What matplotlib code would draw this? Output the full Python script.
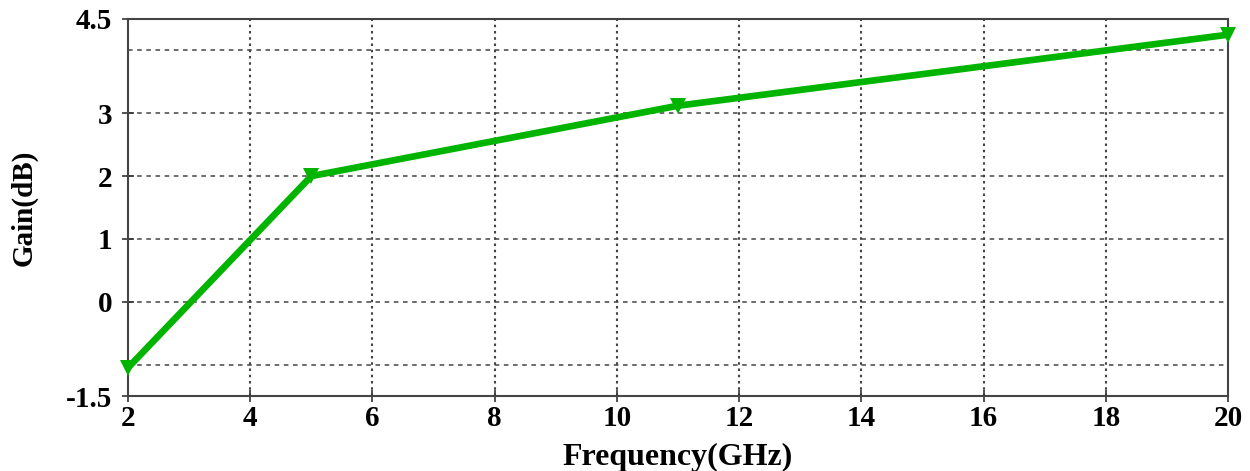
import matplotlib
matplotlib.use("Agg")
import matplotlib.pyplot as plt

freq = [2, 5, 11, 20]
gain = [-1.05, 2.0, 3.12, 4.25]
xticks = [2, 4, 6, 8, 10, 12, 14, 16, 18, 20]
yticks = [-1.5, 0, 1, 2, 3, 4.5]
ygrid = [-1, 0, 1, 2, 3, 4]

plt.rcParams['font.family'] = ['Liberation Serif', 'DejaVu Serif']
plt.rcParams['font.weight'] = 'bold'

fig = plt.figure(figsize=(12.5, 4.71), dpi=100)
ax = fig.add_axes([0.1024, 0.1592, 0.88, 0.8005])

ax.set_xlim(2, 20)
ax.set_ylim(-1.5, 4.5)

# grids
for g in ygrid:
    ax.axhline(g, color='#444444', lw=1.1, ls=(0, (3, 3)), zorder=1)
for g in xticks[1:-1]:
    ax.axvline(g, color='#444444', lw=1.5, ls=(0, (1.2, 1.8)), zorder=1)

ax.plot(freq, gain, color='#00B400', lw=4.8, marker='v', markersize=11,
        markeredgewidth=0, zorder=3, clip_on=False, solid_capstyle='butt')

ax.set_xticks(xticks)
ax.set_yticks(yticks)
ax.set_yticklabels(['-1.5', '0', '1', '2', '3', '4.5'])
ax.tick_params(axis='both', direction='inout', length=9, width=1.2,
               color='#333333', labelsize=21)
ax.tick_params(axis='y', pad=7)
ax.tick_params(axis='x', pad=2)
for lab in ax.get_xticklabels() + ax.get_yticklabels():
    lab.set_fontweight('bold')

for s in ax.spines.values():
    s.set_color('#444444')
    s.set_linewidth(1.5)

ax.set_xlabel('Frequency(GHz)', fontsize=23, fontweight='bold', labelpad=8)
ax.set_ylabel('Gain(dB)', fontsize=21, fontweight='bold', labelpad=20)

fig.savefig('out.png', dpi=100)
